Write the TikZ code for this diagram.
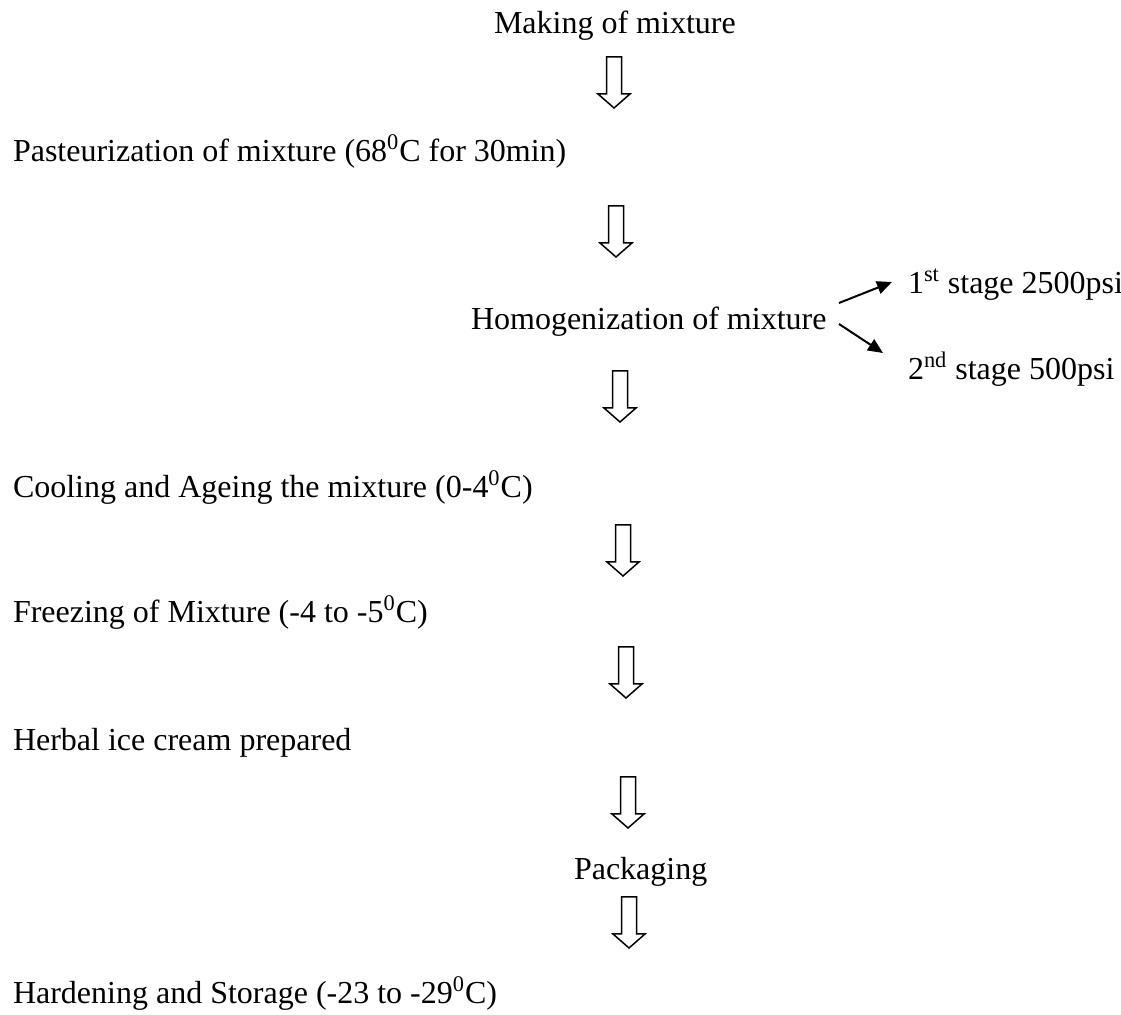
\documentclass[tikz,border=0pt]{standalone}
\usepackage{fontspec}
\setmainfont{Liberation Serif}
\usetikzlibrary{arrows.meta}
\tikzset{
  lbl/.style={anchor=base west, inner sep=0pt, outer sep=0pt},
  blockarrow/.style={draw=black, fill=white, line width=0.75pt, line join=miter},
  sidearrow/.style={draw=black, line width=1pt, -{Triangle[length=7.5pt,width=6.5pt]}},
  pics/downarrow/.style={code={
    \draw[blockarrow] (-7.5,0) -- (7.5,0) -- (7.5,37) -- (16,37) -- (0,51) -- (-16,37) -- (-7.5,37) -- cycle;
  }}
}
\begin{document}
\begin{tikzpicture}[x=0.5pt, y=-0.5pt, font=\fontsize{16pt}{19pt}\selectfont]
\useasboundingbox (0,0) rectangle (1121,1015);
\node[lbl] (mk) at (494,34) {Making of mixture};
\node[lbl] (pa) at (13,162) {Pasteurization of mixture (68\textsuperscript{0}C for 30min)};
\node[lbl] (ho) at (471,330) {Homogenization of mixture};
\node[lbl] (s1) at (908,294) {1\textsuperscript{st} stage 2500psi};
\node[lbl] (s2) at (908,380) {2\textsuperscript{nd} stage 500psi};
\node[lbl] (co) at (13,498) {Cooling and Ageing the mixture (0-4\textsuperscript{0}C)};
\node[lbl] (fr) at (13,623) {Freezing of Mixture (-4 to -5\textsuperscript{0}C)};
\node[lbl] (he) at (13,751) {Herbal ice cream prepared};
\node[lbl] (pk) at (574,880) {Packaging};
\node[lbl] (hd) at (13,1004) {Hardening and Storage (-23 to -29\textsuperscript{0}C)};
\pic at (614,57) {downarrow};
\pic at (616,206) {downarrow};
\pic at (620,371) {downarrow};
\pic at (623,525) {downarrow};
\pic at (626,647) {downarrow};
\pic at (628,777) {downarrow};
\pic at (629,897) {downarrow};
\coordinate (a1s) at (839,303);
\coordinate (a1e) at (892,282);
\coordinate (a2s) at (839,324);
\coordinate (a2e) at (883,353);
\draw[sidearrow] (a1s) -- (a1e);
\draw[sidearrow] (a2s) -- (a2e);
\end{tikzpicture}
\end{document}
